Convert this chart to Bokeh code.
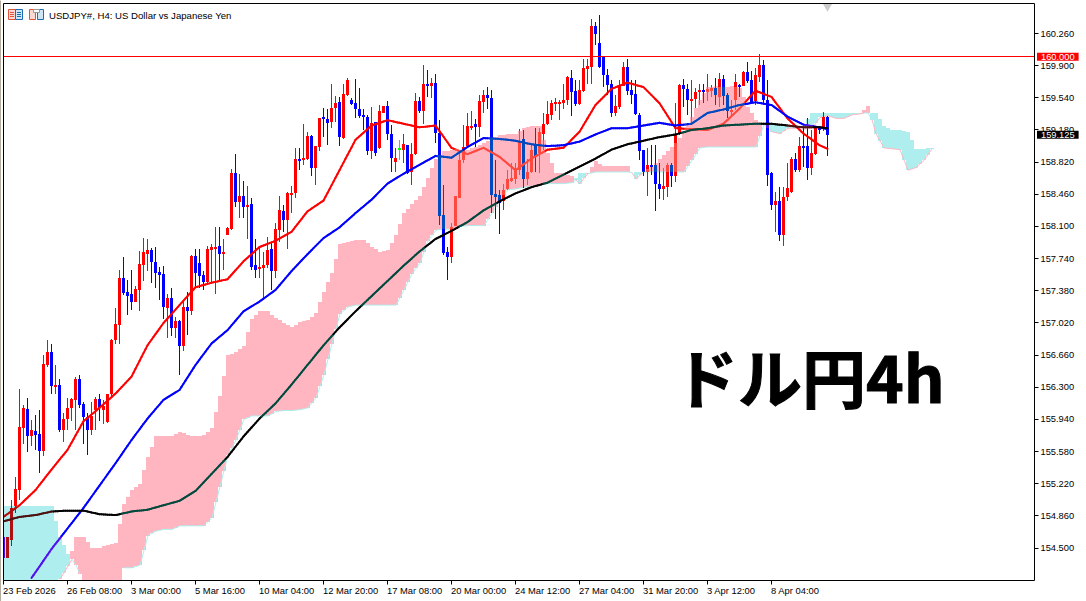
import numpy as np
from bokeh.plotting import figure
from bokeh.models import FixedTicker, Label, LinearAxis, PrintfTickFormatter, Range1d
from bokeh.embed import file_html
from bokeh.resources import INLINE

opens = [154.63,154.39,154.59,154.97,155.15,155.85,156.06,155.75,155.81,155.78,
155.59,156.55,156.70,156.32,156.33,155.82,155.94,156.07,156.16,156.39,
156.11,155.97,155.82,156.05,156.17,156.05,155.91,156.22,156.83,157.00,
157.52,157.37,157.35,157.26,157.39,157.67,157.79,157.84,157.70,157.59,
157.57,157.19,157.30,156.96,157.04,156.76,157.20,157.15,157.77,157.69,
157.56,157.48,157.84,157.85,157.88,157.79,158.00,158.07,158.70,158.37,
158.44,158.32,158.35,157.67,157.62,157.64,157.67,157.85,157.60,158.06,
158.27,158.17,158.47,158.48,158.86,158.84,158.86,159.11,158.76,158.99,
159.32,159.30,159.27,159.43,159.49,159.09,159.57,159.52,159.48,159.42,
159.35,159.33,158.94,159.27,158.98,159.37,159.45,159.13,158.82,158.98,
158.96,159.01,158.71,158.91,159.50,159.39,159.70,159.67,159.71,159.15,
158.23,157.82,157.76,158.11,158.42,158.84,159.00,159.21,159.25,159.21,
159.49,159.57,159.54,158.46,158.45,158.38,158.52,158.61,158.63,158.73,
159.08,158.63,158.71,159.01,158.92,159.14,159.25,159.35,159.48,159.48,
159.48,159.52,159.76,159.62,159.47,159.62,159.86,159.89,160.34,160.15,
160.00,159.80,159.70,159.37,159.44,159.67,159.89,159.63,159.58,159.35,
158.96,158.71,158.79,158.79,158.58,158.52,158.54,158.79,158.67,159.13,
159.68,159.64,159.50,159.53,159.60,159.63,159.61,159.62,159.65,159.55,
159.75,159.57,159.39,159.52,159.68,159.67,159.83,159.74,159.50,159.77,
159.91,159.52,158.70,158.34,158.38,158.00,158.43,158.49,158.86,158.73,
159.00,159.00,158.75,158.91,159.20,159.20,159.33]
highs = [154.63,154.62,155.04,155.30,156.28,156.10,156.18,155.93,155.99,156.05,
156.66,156.83,156.79,156.55,156.39,156.01,156.18,156.18,156.41,156.44,
156.14,156.01,156.14,156.19,156.22,156.16,156.23,156.84,157.19,157.61,
157.76,157.50,157.61,157.43,157.83,157.97,157.96,157.86,157.87,157.65,
157.66,157.35,157.41,157.09,157.05,157.28,157.37,157.78,157.85,157.85,
157.60,157.88,157.90,158.09,158.09,157.96,158.09,158.74,158.91,158.69,
158.61,158.55,158.42,157.96,157.86,157.82,157.98,157.91,158.14,158.44,
158.34,158.49,158.55,158.98,158.98,159.25,159.16,159.12,159.00,159.31,
159.43,159.42,159.70,159.56,159.55,159.70,159.76,159.54,159.75,159.65,
159.41,159.35,159.44,159.27,159.46,159.45,159.50,159.24,158.98,159.07,
159.14,159.01,159.03,159.59,159.55,159.91,159.85,159.76,159.81,159.29,
158.57,157.87,158.14,158.44,158.96,159.24,159.37,159.39,159.30,159.57,
159.63,159.66,159.63,158.84,158.51,158.58,158.73,158.81,158.81,159.19,
159.18,158.86,159.01,159.20,159.20,159.37,159.50,159.52,159.54,159.52,
159.70,159.78,159.85,159.74,159.74,159.98,159.98,160.42,160.39,160.47,
160.00,159.86,159.74,159.57,159.74,159.94,159.97,159.74,159.74,159.37,
158.96,158.98,159.01,159.01,158.81,158.75,158.81,158.81,159.48,159.70,
159.75,159.69,159.74,159.65,159.70,159.70,159.81,159.68,159.76,159.82,
159.80,159.59,159.52,159.81,159.70,159.84,159.94,159.84,159.87,160.03,
159.96,159.74,158.71,158.49,158.54,158.54,158.81,158.88,158.92,159.10,
159.20,159.31,159.18,159.20,159.21,159.38,159.34]
lows = [154.39,154.39,154.52,154.89,155.04,155.67,155.58,155.64,155.60,155.34,
155.53,156.53,156.23,156.22,155.80,155.69,155.82,155.92,155.82,156.07,
155.67,155.54,155.77,155.82,155.92,155.89,155.90,156.20,156.79,156.79,
157.33,157.11,157.17,157.26,157.15,157.49,157.60,157.47,157.41,157.28,
157.07,156.85,156.87,156.85,156.44,156.71,156.89,157.11,157.42,157.41,
157.39,157.47,157.47,157.35,157.50,157.61,158.00,158.06,158.32,158.19,
158.19,157.96,157.61,157.52,157.52,157.28,157.63,157.39,157.52,157.93,
158.04,157.85,158.25,158.42,158.73,158.79,158.84,158.67,158.56,158.95,
159.10,159.01,159.20,159.27,159.00,159.08,159.56,159.46,159.31,159.31,
159.18,158.90,158.85,158.89,158.97,159.37,159.07,158.71,158.71,158.84,
158.81,158.69,158.57,158.90,159.37,159.25,159.55,159.54,159.04,158.12,
157.78,157.50,157.69,158.10,158.42,158.81,158.99,159.18,158.99,159.10,
159.37,159.42,158.25,158.18,158.02,158.29,158.51,158.60,158.58,158.68,
158.53,158.57,158.70,158.71,158.70,158.96,159.24,159.29,159.39,159.29,
159.42,159.46,159.34,159.45,159.46,159.61,159.70,159.70,160.13,159.87,
159.66,159.57,159.33,159.34,159.42,159.67,159.57,159.47,159.35,158.84,
158.66,158.44,158.68,158.27,158.41,158.40,158.43,158.54,158.60,159.12,
159.44,159.35,159.25,159.43,159.46,159.48,159.50,159.55,159.46,159.44,
159.46,159.31,159.35,159.40,159.55,159.67,159.71,159.48,159.46,159.72,
159.48,158.55,158.29,158.04,157.94,157.88,158.38,158.47,158.71,158.71,
158.77,158.62,158.68,158.90,159.14,159.17,158.89]
closes = [154.39,154.62,154.95,155.16,155.86,156.07,155.75,155.82,155.77,155.59,
156.56,156.70,156.32,156.33,155.82,155.95,156.07,156.17,156.39,156.10,
155.97,155.82,155.98,156.17,156.07,156.09,156.22,156.83,157.01,157.52,
157.36,157.32,157.26,157.40,157.68,157.81,157.84,157.70,157.58,157.56,
157.20,157.30,156.96,157.04,156.76,157.20,157.15,157.77,157.58,157.55,
157.48,157.85,157.87,157.87,157.79,157.81,158.08,158.70,158.37,158.44,
158.32,158.34,157.65,157.61,157.65,157.67,157.84,157.60,158.07,158.29,
158.17,158.47,158.48,158.86,158.83,158.87,159.11,158.76,159.00,159.31,
159.30,159.26,159.43,159.48,159.10,159.58,159.74,159.47,159.42,159.34,
159.32,158.94,159.26,158.92,159.39,159.45,159.13,158.87,158.87,158.98,
159.02,158.70,158.91,159.50,159.39,159.70,159.67,159.71,159.15,158.22,
157.80,157.76,158.09,158.44,158.84,158.99,159.23,159.23,159.21,159.50,
159.57,159.54,158.45,158.43,158.36,158.51,158.63,158.64,158.74,159.05,
158.63,158.71,158.96,158.88,159.16,159.25,159.36,159.48,159.49,159.49,
159.52,159.77,159.60,159.47,159.63,159.87,159.90,160.34,160.25,159.88,
159.79,159.68,159.37,159.45,159.68,159.89,159.62,159.57,159.36,158.94,
158.71,158.79,158.77,158.58,158.52,158.55,158.79,158.67,159.12,159.68,
159.64,159.52,159.53,159.61,159.63,159.60,159.64,159.65,159.57,159.75,
159.56,159.39,159.40,159.72,159.67,159.83,159.73,159.48,159.79,159.91,
159.52,158.68,158.34,158.38,158.00,158.43,158.53,158.86,158.73,159.00,
158.99,158.75,158.92,159.20,159.19,159.32,159.125]

# moving averages, read every fourth bar (and the last bar)
ma_bars = list(range(0, 205, 4)) + [206]
ma_fast = [154.85,154.98,155.15,155.38,155.60,155.92,156.07,156.23,156.42,156.77,
157.02,157.22,157.42,157.47,157.51,157.71,157.87,157.94,158.04,158.27,
158.39,158.73,159.07,159.23,159.29,159.25,159.21,159.23,158.98,158.91,
158.98,158.88,158.73,158.86,158.96,158.98,159.16,159.46,159.64,159.71,
159.66,159.48,159.20,159.19,159.18,159.25,159.42,159.62,159.55,159.31,
159.14,159.01,158.97]
ma_mid = [153.72,153.98,154.23,154.49,154.72,154.95,155.20,155.45,155.71,155.95,
156.16,156.27,156.55,156.79,156.94,157.15,157.26,157.39,157.60,157.79,
157.97,158.09,158.25,158.40,158.58,158.69,158.79,158.89,158.87,158.99,
159.09,159.08,159.06,159.02,159.00,159.01,159.05,159.13,159.20,159.20,
159.23,159.26,159.23,159.25,159.37,159.41,159.46,159.49,159.46,159.33,
159.24,159.21,159.19]
ma_slow = [154.80,154.85,154.87,154.91,154.92,154.92,154.88,154.87,154.91,154.93,
154.98,155.03,155.14,155.33,155.52,155.75,155.95,156.12,156.33,156.55,
156.77,156.97,157.15,157.32,157.49,157.66,157.82,157.96,158.05,158.15,
158.28,158.38,158.47,158.54,158.59,158.68,158.77,158.86,158.96,159.02,
159.06,159.10,159.13,159.18,159.20,159.23,159.24,159.25,159.25,159.23,
159.21,159.21,159.20]

# Ichimoku spans, read every second bar
cloud_bars = list(range(0, 233, 2))
span_a = [153.92,153.92,153.92,153.92,153.92,153.92,154.13,154.15,154.30,
154.63,154.63,154.50,154.50,154.54,154.56,154.99,155.15,155.22,155.52,155.75,
155.75,155.75,155.80,155.77,155.75,155.77,155.84,156.20,156.66,156.69,156.76,
157.07,157.15,157.15,157.08,157.02,156.97,157.03,157.05,157.13,157.37,157.58,
157.90,157.93,157.95,157.95,157.87,157.82,157.84,158.00,158.25,158.35,158.44,
158.64,158.86,158.94,158.96,158.96,158.96,158.99,159.03,159.09,159.12,159.13,
159.14,159.20,159.23,159.22,158.92,158.70,158.70,158.66,158.58,158.70,158.83,
158.78,158.78,158.78,158.78,158.63,158.72,158.77,158.86,158.95,159.03,159.16,
159.33,159.52,159.66,159.67,159.66,159.67,159.65,159.44,159.29,159.25,159.16,
159.14,159.20,159.20,159.19,159.20,159.32,159.34,159.31,159.31,159.35,159.36,
159.45,159.14,158.98,158.97,158.96,158.73,158.76,158.84,158.97]
span_b = [154.97,154.97,154.97,154.97,154.97,154.97,154.97,154.63,154.44,
154.31,154.11,153.92,153.92,153.92,153.92,154.28,154.28,154.31,154.64,154.69,
154.71,154.71,154.75,154.75,154.75,154.75,154.84,155.19,155.54,155.71,155.94,
155.98,155.98,155.98,156.03,156.04,156.04,156.05,156.07,156.18,156.44,156.79,
157.12,157.20,157.22,157.22,157.22,157.22,157.22,157.22,157.39,157.57,157.69,
157.94,158.06,158.07,158.07,158.10,158.11,158.11,158.11,158.25,158.39,158.51,
158.52,158.54,158.55,158.57,158.58,158.58,158.58,158.59,158.70,158.69,158.71,
158.71,158.71,158.71,158.71,158.71,158.71,158.71,158.71,158.71,158.71,158.71,
158.84,158.98,158.99,158.99,158.99,158.99,158.99,158.99,158.99,159.24,159.24,
159.23,159.23,159.23,159.23,159.37,159.37,159.37,159.37,159.37,159.37,159.37,
159.37,159.37,159.23,159.18,159.18,159.16,158.97,158.97,158.98]

price_ticks = [160.26,159.90,159.54,159.18,158.82,158.46,158.10,157.74,157.38,157.02,
               156.66,156.30,155.94,155.58,155.22,154.86,154.50]
time_ticks = [0,16,32,48,64,80,96,112,128,144,160,176,192]
time_labels = ["23 Feb 2026","26 Feb 08:00","3 Mar 00:00","5 Mar 16:00","10 Mar 04:00",
               "12 Mar 20:00","17 Mar 08:00","20 Mar 00:00","24 Mar 12:00","27 Mar 04:00",
               "31 Mar 20:00","3 Apr 12:00","8 Apr 04:00"]
title_text = "USDJPY#, H4:  US Dollar vs Japanese Yen"
big_text = "ドル円4h"
level_price = 160.0
last_price = 159.125

assert len(opens)==len(highs)==len(lows)==len(closes)==207
assert len(span_a)==len(span_b)==len(cloud_bars)
assert len(ma_fast)==len(ma_mid)==len(ma_slow)==len(ma_bars)

# page pixel <-> data helpers, for the chart furniture and pixel snapping
def X(px): return (px - 3.5) / 4.0
def Y(py): return 160.26 - (py - 33.5) / 89.35
def ypx(v): return 33.5 + (160.26 - np.asarray(v, dtype=float)) * 89.35
def edge(v): return Y(np.round(ypx(v)))          # snap to a pixel boundary

PINK, CYAN = "#FFB6C1", "#AFEEEE"
# the terminal paints the cloud with an XOR, so colours change inside it
TINT = {"pink": {"red": "#FF493E", "blue": "#0049C1", "black": "#00493E", "#00FF00": "#00FF3E"},
        "cyan": {"red": "#AF1111", "blue": "#5011EE", "black": "#501111", "#00FF00": "#50EE11"}}
FLOOR = Y(580)

# the frame fills the whole canvas, so that texts beside the plot area are not cut;
# the half pixel cancels the half-pixel translation of Bokeh's drawing context
p = figure(width=1086, height=601, output_backend="svg", toolbar_location=None,
           x_range=Range1d(X(0.5), X(1086.5)), y_range=Range1d(Y(601.5), Y(0.5)),
           x_axis_location=None, y_axis_location=None,
           min_border_left=0, min_border_top=0, min_border_right=0, min_border_bottom=0,
           background_fill_color="white", border_fill_color="white", outline_line_color=None)
p.grid.visible = False

# cloud, bar by bar
bars_all = np.arange(0, 233)
a = np.interp(bars_all, cloud_bars, span_a)
b = np.interp(bars_all, cloud_bars, span_b)
top, bot = np.maximum(a, b), np.minimum(a, b)
is_pink = a >= b
kind = np.where(is_pink, "pink", "cyan")
draw_bot = np.maximum(bot, FLOOR)

p.quad(left=np.maximum(bars_all - 0.375, X(3)), right=bars_all + 0.625,
       top=edge(top), bottom=edge(draw_bot),
       fill_color=[PINK if k else CYAN for k in is_pink], line_color=None)
m = (bot[:-1] > FLOOR) & (bot[1:] > FLOOR)
p.segment(x0=(bars_all[:-1] + 0.125)[m], y0=bot[:-1][m], x1=(bars_all[1:] + 0.125)[m], y1=bot[1:][m],
          line_color=[CYAN if k else PINK for k in is_pink[:-1][m]], line_width=1)

# candles
o, h, l, c = map(np.array, (opens, highs, lows, closes))
idx = np.arange(len(o))
col = np.where(c > o, "red", np.where(c < o, "blue", "#00FF00"))
body_top, body_bot = np.maximum(o, c), np.minimum(o, c)
s_bt = edge(body_top)
s_bb = np.minimum(edge(body_bot), s_bt - 2 / 89.35)   # a body is at least two pixels tall

p.segment(x0=idx, y0=edge(l), x1=idx, y1=edge(h), line_color=list(col), line_width=1)
p.vbar(x=idx, top=s_bt, bottom=s_bb, width=0.75, fill_color=list(col), line_color=None)

def overlap(lo, hi):
    ol = np.maximum(lo, edge(bot[idx])); oh = np.minimum(hi, edge(top[idx]))
    return ol, oh, oh > ol

ol, oh, m = overlap(edge(l), edge(h))
p.segment(x0=idx[m], y0=ol[m], x1=idx[m], y1=oh[m],
          line_color=[TINT[kind[i]][col[i]] for i in idx[m]], line_width=1)
ol, oh, m = overlap(s_bb, s_bt)
p.vbar(x=idx[m], top=oh[m], bottom=ol[m], width=0.75,
       fill_color=[TINT[kind[i]][col[i]] for i in idx[m]], line_color=None)

# moving averages, cut into pieces so that a piece inside the cloud takes its tint
def draw_ma(vals, base):
    xs = np.arange(ma_bars[0], ma_bars[-1] + 0.01, 0.5)
    ys = np.interp(xs, ma_bars, vals)
    xm = (xs[:-1] + xs[1:]) / 2
    ym = (ys[:-1] + ys[1:]) / 2
    j = np.clip(np.round(xm).astype(int), 0, 232)
    keep = ys[:-1] >= FLOOR
    cols = [TINT[kind[q]][base] if bot[q] < v < top[q] else base for q, v in zip(j, ym)]
    p.segment(x0=xs[:-1][keep], y0=ys[:-1][keep], x1=xs[1:][keep], y1=ys[1:][keep],
              line_color=[cc for cc, kk in zip(cols, keep) if kk], line_width=2, line_cap="round")

draw_ma(ma_fast, "red")
draw_ma(ma_mid, "blue")
draw_ma(ma_slow, "black")

# end-of-data marker at the top
p.scatter(x=[206], y=[Y(6.5)], marker="inverted_triangle", size=9, fill_color="#CCCCCC", line_color=None)

# level line
p.segment(x0=[X(3)], y0=[Y(56.5)], x1=[X(1034)], y1=[Y(56.5)], line_color="red", line_width=1)

# masks and frame
p.quad(left=[X(0)], right=[X(3)], top=[Y(0)], bottom=[Y(601)], fill_color="white", line_color=None)
p.quad(left=[X(0)], right=[X(1)], top=[Y(0)], bottom=[Y(601)], fill_color="#6E5A3C", line_color=None)
p.quad(left=[X(3.5)], right=[X(1034.5)], top=[Y(3.5)], bottom=[Y(580.5)],
       fill_color=None, line_color="black", line_width=1)

# axes pinned to the frame edges
yax = LinearAxis(fixed_location=X(1034.5), ticker=FixedTicker(ticks=price_ticks),
                 formatter=PrintfTickFormatter(format="%.3f"),
                 axis_line_color=None, major_tick_in=0, major_tick_out=4, minor_tick_line_color=None,
                 major_tick_line_color="black", major_label_standoff=2,
                 major_label_text_font="Liberation Sans", major_label_text_font_size="9.3px",
                 major_label_text_color="black")
p.add_layout(yax, "right")
xax = LinearAxis(fixed_location=Y(580.5), ticker=FixedTicker(ticks=time_ticks),
                 major_label_overrides={t: "" for t in time_ticks},
                 axis_line_color=None, major_tick_in=0, major_tick_out=4, minor_tick_line_color=None,
                 major_tick_line_color="black")
p.add_layout(xax, "below")

# little chart-window icons
def icon_box(x0, x1, y0, y1, fill, line):
    p.quad(left=[X(x0)], right=[X(x1)], top=[Y(y0)], bottom=[Y(y1)], fill_color=fill, line_color=line, line_width=1)
icon_box(8.5, 15.5, 9.5, 19.5, "#FBD9D3", "#E2533E")
icon_box(15.5, 22.5, 9.5, 19.5, "#CFE5F6", "#1C6EB3")
for yy in (12.5, 14.5, 16.5):
    p.segment(x0=[X(10)], y0=[Y(yy)], x1=[X(14)], y1=[Y(yy)], line_color="#E2533E", line_width=1)
    p.segment(x0=[X(17)], y0=[Y(yy)], x1=[X(21)], y1=[Y(yy)], line_color="#1C6EB3", line_width=1)
icon_box(29.5, 35.5, 9.5, 19.5, "#FBD9D3", "#E2533E")
icon_box(37.5, 43.5, 9.5, 19.5, "#CFE5F6", "#1C6EB3")
icon_box(33.5, 39.5, 9.5, 12.5, "white", "#999999")

# texts
p.add_layout(Label(x=X(49), y=Y(15), text=title_text, text_font="Liberation Sans", text_font_size="9.6px",
                   text_color="black", text_baseline="middle", text_align="left"))
for t, s in zip(time_ticks, time_labels):
    p.add_layout(Label(x=t - 0.12, y=Y(590), text=s, text_font="Liberation Sans", text_font_size="9.4px",
                       text_color="black", text_baseline="middle", text_align="left"))
p.add_layout(Label(x=X(674), y=Y(375), text=big_text, text_font="Noto Sans CJK JP", text_font_size="64px",
                   text_font_style="bold", text_color="black", text_baseline="middle", text_align="left",
                   text_outline_color="black"))
p.add_layout(Label(x=X(1037), y=Y(56.7), text="160.000", text_font="Liberation Sans", text_font_size="9.3px",
                   text_color="white", text_baseline="middle", text_align="left",
                   background_fill_color="#FF0000", padding=(4, 1)))
p.add_layout(Label(x=X(1037), y=Y(134.7), text="159.125", text_font="Liberation Sans", text_font_size="9.3px",
                   text_color="white", text_baseline="middle", text_align="left",
                   background_fill_color="black", padding=(4, 1)))

open("out.html", "w").write(file_html(p, INLINE))
